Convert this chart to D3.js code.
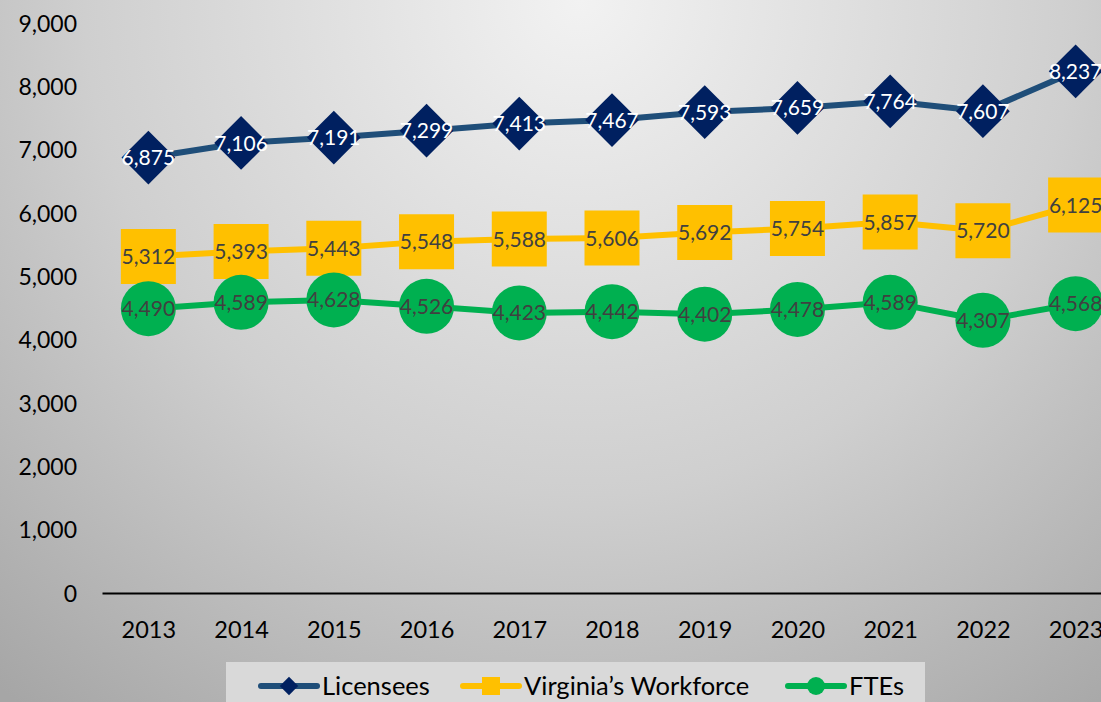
<!DOCTYPE html>
<html lang="en">
<head>
    <meta charset="UTF-8">
    <title>Licensees, Workforce and FTEs</title>
    <script src="https://d3js.org/d3.v7.min.js"></script>
    <style>
        body {
            margin: 0;
            padding: 0;
            overflow: hidden;
        }
        svg { display: block; }
        svg text { font-family: Lato, "Open Sans", sans-serif; }
        .tick-label { font-size: 23px; fill: #000; }
        .year-label { font-size: 23.5px; fill: #000; }
        .data-label { font-size: 21px; }
        .legend-text { font-size: 25.5px; fill: #000; }
    </style>
</head>
<body>
    <svg id="chart" width="1101" height="702"></svg>

    <script>
        // Values
        const years = ["2013", "2014", "2015", "2016", "2017", "2018", "2019", "2020", "2021", "2022", "2023"];
        const licensees = [6875, 7106, 7191, 7299, 7413, 7467, 7593, 7659, 7764, 7607, 8237];
        const workforce = [5312, 5393, 5443, 5548, 5588, 5606, 5692, 5754, 5857, 5720, 6125];
        const ftes = [4490, 4589, 4628, 4526, 4423, 4442, 4402, 4478, 4589, 4307, 4568];
        const yTicks = [0, 1000, 2000, 3000, 4000, 5000, 6000, 7000, 8000, 9000];
        const seriesNames = ["Licensees", "Virginia\u2019s Workforce", "FTEs"];

        const series = [
            { name: seriesNames[0], values: licensees, line: "#1f4e79", fill: "#002060", label: "#ffffff", shape: "diamond" },
            { name: seriesNames[1], values: workforce, line: "#ffc000", fill: "#ffc000", label: "#404040", shape: "square" },
            { name: seriesNames[2], values: ftes, line: "#00b050", fill: "#00b050", label: "#404040", shape: "circle" }
        ];

        const W = 1101, H = 702;
        const svg = d3.select("#chart");

        // background gradient
        const defs = svg.append("defs");
        const grad = defs.append("radialGradient")
            .attr("id", "bg")
            .attr("gradientUnits", "userSpaceOnUse")
            .attr("cx", 580).attr("cy", 0).attr("r", 900);
        grad.append("stop").attr("offset", 0).attr("stop-color", "#f2f2f2");
        grad.append("stop").attr("offset", 0.55).attr("stop-color", "#cfcfcf");
        grad.append("stop").attr("offset", 1).attr("stop-color", "#a6a6a6");

        svg.append("rect").attr("width", W).attr("height", H).attr("fill", "url(#bg)");

        // scales
        const x = d3.scalePoint().domain(years).range([102, 1122]).padding(0.5);
        const y = d3.scaleLinear().domain([0, 9000]).range([593, 23]);

        // y axis (labels only)
        const yAxis = svg.append("g")
            .attr("transform", "translate(77,0)")
            .call(d3.axisLeft(y).tickValues(yTicks).tickSize(0).tickPadding(0).tickFormat(d3.format(",")));
        yAxis.select(".domain").remove();
        yAxis.selectAll("text")
            .attr("class", "tick-label")
            .attr("dy", "0.36em");

        // x axis
        const xAxis = svg.append("g")
            .attr("transform", "translate(0,593)")
            .call(d3.axisBottom(x).tickSize(0).tickPadding(0));
        xAxis.select(".domain").attr("stroke", "#000").attr("stroke-width", 2);
        xAxis.selectAll("text")
            .attr("class", "year-label")
            .attr("y", 37)
            .attr("dy", "0.36em");

        // lines and markers
        const line = d3.line()
            .x((d, i) => x(years[i]))
            .y(d => y(d));

        const diamond = d3.symbol().type(d3.symbolSquare).size(38 * 38);
        const square = d3.symbol().type(d3.symbolSquare).size(55 * 55);

        series.forEach(s => {
            svg.append("path")
                .datum(s.values)
                .attr("d", line)
                .attr("fill", "none")
                .attr("stroke", s.line)
                .attr("stroke-width", 6)
                .attr("stroke-linejoin", "round");

            const g = svg.append("g");
            const pts = g.selectAll(".pt")
                .data(s.values)
                .enter();

            if (s.shape === "circle") {
                pts.append("circle")
                    .attr("cx", (d, i) => x(years[i]))
                    .attr("cy", d => y(d))
                    .attr("r", 27.5)
                    .attr("fill", s.fill);
            } else {
                pts.append("path")
                    .attr("d", s.shape === "diamond" ? diamond : square)
                    .attr("transform", (d, i) => `translate(${x(years[i])},${y(d)})` + (s.shape === "diamond" ? " rotate(45)" : ""))
                    .attr("fill", s.fill);
            }

            g.selectAll(".data-label")
                .data(s.values)
                .enter()
                .append("text")
                .attr("class", "data-label")
                .attr("x", (d, i) => x(years[i]))
                .attr("y", d => y(d))
                .attr("dy", "0.36em")
                .attr("text-anchor", "middle")
                .attr("fill", s.label)
                .text(d => d3.format(",")(d));
        });

        // legend
        svg.append("rect")
            .attr("x", 226).attr("y", 662)
            .attr("width", 699).attr("height", 45)
            .attr("fill", "#d9d9d9");

        const legendX = [261, 463, 788];
        series.forEach((s, i) => {
            const lx = legendX[i], ly = 686;
            svg.append("line")
                .attr("x1", lx).attr("x2", lx + 56)
                .attr("y1", ly).attr("y2", ly)
                .attr("stroke", s.line)
                .attr("stroke-width", 6)
                .attr("stroke-linecap", "round");
            if (s.shape === "circle") {
                svg.append("circle").attr("cx", lx + 28).attr("cy", ly).attr("r", 9).attr("fill", s.fill);
            } else if (s.shape === "diamond") {
                svg.append("path")
                    .attr("d", d3.symbol().type(d3.symbolSquare).size(13 * 13))
                    .attr("transform", `translate(${lx + 28},${ly}) rotate(45)`)
                    .attr("fill", s.fill);
            } else {
                svg.append("path")
                    .attr("d", d3.symbol().type(d3.symbolSquare).size(18 * 18))
                    .attr("transform", `translate(${lx + 28},${ly})`)
                    .attr("fill", s.fill);
            }
            svg.append("text")
                .attr("class", "legend-text")
                .attr("x", lx + 61)
                .attr("y", ly)
                .attr("dy", "0.36em")
                .text(s.name);
        });
    </script>
</body>
</html>
